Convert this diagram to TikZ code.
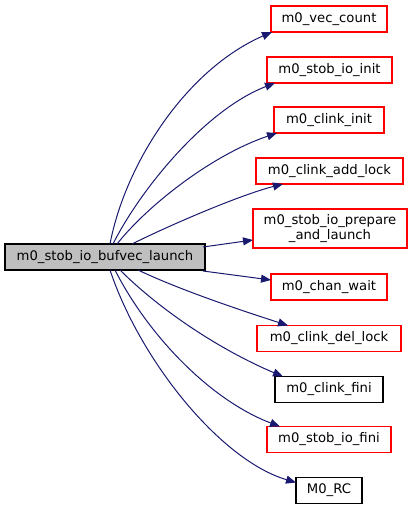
\documentclass[tikz,border=0pt]{standalone}
\usepackage{fontspec}
\setmainfont{DejaVu Sans}
\usetikzlibrary{arrows.meta,calc}
\definecolor{edgeblue}{HTML}{191970}
\definecolor{boxred}{HTML}{FF0000}
\definecolor{mainfill}{HTML}{BFBFBF}
\begin{document}
\begin{tikzpicture}[x=0.75pt,y=-0.75pt,
  fnbox/.style={draw, line width=0.8pt, inner sep=0pt, outer sep=0pt, minimum height=19.5pt, font=\fontsize{9.9}{11.5}\selectfont, align=center},
  redbox/.style={fnbox, draw=boxred},
  blackbox/.style={fnbox, draw=black},
  mainbox/.style={fnbox, draw=black, fill=mainfill},
  callline/.style={draw=edgeblue, line width=0.75pt, -{Triangle[length=7.5pt,width=6pt]}}]
\useasboundingbox (0,0) rectangle (412,509);
\node[mainbox, minimum width=150pt] (main) at (105,257) {m0\_stob\_io\_bufvec\_launch};
\node[redbox, minimum width=87pt] (vecc) at (329,19) {m0\_vec\_count};
\node[redbox, minimum width=93.75pt] (sinit) at (329.5,70) {m0\_stob\_io\_init};
\node[redbox, minimum width=82.5pt] (cinit) at (329,120) {m0\_clink\_init};
\node[redbox, minimum width=110.25pt] (addl) at (329.5,171) {m0\_clink\_add\_lock};
\node[redbox, minimum width=115.5pt, minimum height=29.25pt] (prep) at (330,228.5) {m0\_stob\_io\_prepare\\\_and\_launch};
\node[redbox, minimum width=87pt] (chan) at (329,287) {m0\_chan\_wait};
\node[redbox, minimum width=108pt] (dell) at (329,338.5) {m0\_clink\_del\_lock};
\node[blackbox, minimum width=81pt] (cfini) at (329,389.5) {m0\_clink\_fini};
\node[redbox, minimum width=93pt] (sfini) at (329,439.5) {m0\_stob\_io\_fini};
\node[blackbox, minimum width=49.5pt] (rc) at (329,490.5) {M0\_RC};

\draw[callline] ($(main.north west)+(105,0)$) .. controls (125,165) and (185,70) .. ($(vecc.south west)+(1,0)$);
\draw[callline] ($(main.north west)+(108,0)$) .. controls (140,190) and (205,110) .. ($(sinit.south west)+(8,0)$);
\draw[callline] ($(main.north west)+(112,0)$) .. controls (148,205) and (212,155) .. ($(cinit.south west)+(3,0)$);
\draw[callline] ($(main.north west)+(127,0)$) .. controls (170,225) and (240,195) .. ($(addl.south west)+(27,0)$);
\draw[callline] ($(main.north east)+(-2,3)$) -- ($(prep.south west)+(0,-8)$);
\draw[callline] ($(main.south east)+(-2,1)$) -- ($(chan.north west)+(0,6)$);
\draw[callline] ($(main.south west)+(133,0)$) .. controls (180,290) and (240,310) .. ($(dell.north west)+(31,0)$);
\draw[callline] ($(main.south west)+(115,0)$) .. controls (160,310) and (220,350) .. ($(cfini.north west)+(8,0)$);
\draw[callline] ($(main.south west)+(110,0)$) .. controls (148,335) and (210,400) .. ($(sfini.north west)+(13,0)$);
\draw[callline] ($(main.south west)+(105,0)$) .. controls (140,360) and (220,460) .. ($(rc.north west)+(0,5)$);
\end{tikzpicture}
\end{document}
